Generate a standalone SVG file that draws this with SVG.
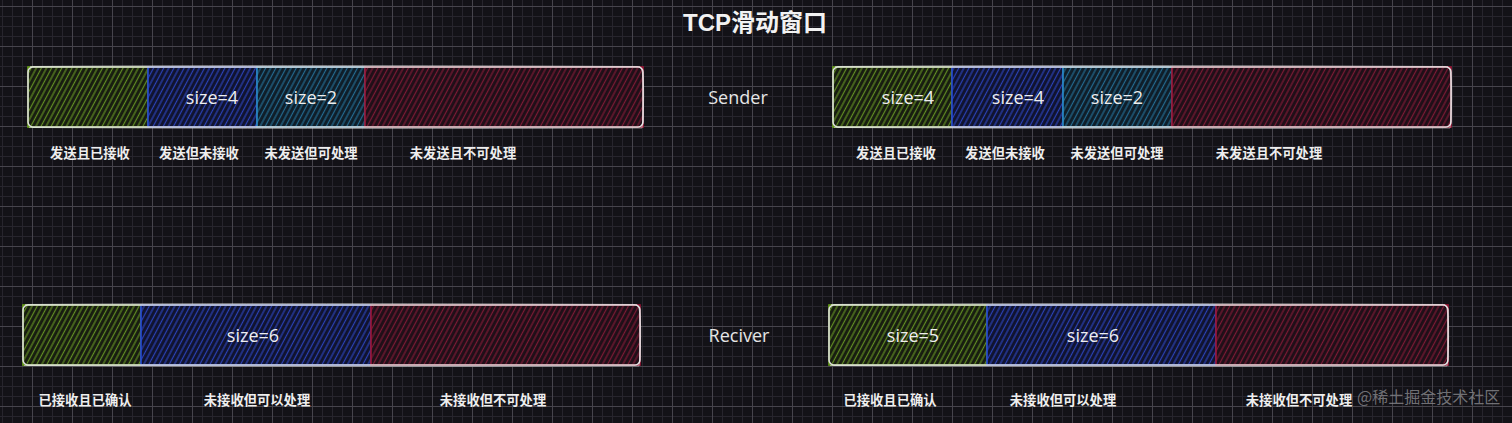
<svg xmlns="http://www.w3.org/2000/svg" width="1512" height="423" viewBox="0 0 1512 423">
<style>
.title{font-family:"Liberation Sans","Noto Sans CJK SC",sans-serif;font-weight:bold;font-size:24px;fill:#f2f2f2;text-anchor:middle}
.lbl{font-family:"Noto Sans CJK SC",sans-serif;font-weight:bold;font-size:13.3px;fill:#eeeeee;text-anchor:middle;dominant-baseline:central}
.hand{font-family:"Open Sans","Noto Sans",sans-serif;font-size:18px;fill:#eeeeee;text-anchor:middle;dominant-baseline:central}
.side{font-family:"Open Sans","Noto Sans",sans-serif;font-size:18px;fill:#e6e6e6;text-anchor:middle;dominant-baseline:central}
.wm{font-family:"Noto Sans CJK SC",sans-serif;font-size:16px;fill:#8a8a8e;fill-opacity:0.8}
.outer{fill:none;stroke:#dedede;stroke-width:1.6}
.outer2{fill:none;stroke:#ffffff;stroke-width:1;stroke-opacity:0.45}
.g{fill:url(#hG);stroke:#6aa31a;stroke-width:1.6}
.b{fill:url(#hB);stroke:#2448d8;stroke-width:1.6}
.c{fill:url(#hC);stroke:#2a8cc4;stroke-width:1.6}
.r{fill:url(#hR);stroke:#9e1535;stroke-width:1.6}
</style>
<defs>
<pattern id="minor" patternUnits="userSpaceOnUse" x="2" y="6" width="10" height="10"><path d="M0.5 0V10M0 0.5H10" stroke="#27252d" stroke-width="1" fill="none"/></pattern>
<pattern id="major" patternUnits="userSpaceOnUse" x="32" y="6" width="40" height="40"><path d="M0.5 0V40M0 0.5H40" stroke="#46444c" stroke-width="1" fill="none"/></pattern>
<pattern id="hG" patternUnits="userSpaceOnUse" width="9" height="20" patternTransform="rotate(28)"><rect width="9" height="20" fill="#171c10"/><path d="M1 -1V21M5.5 -1V21" stroke="#628f24" stroke-width="1.2"/></pattern>
<pattern id="hB" patternUnits="userSpaceOnUse" width="9" height="20" patternTransform="rotate(28)"><rect width="9" height="20" fill="#10132e"/><path d="M1 -1V21M5.5 -1V21" stroke="#2b42b8" stroke-width="1.2"/></pattern>
<pattern id="hC" patternUnits="userSpaceOnUse" width="9" height="20" patternTransform="rotate(28)"><rect width="9" height="20" fill="#0f1d28"/><path d="M1 -1V21M5.5 -1V21" stroke="#246c92" stroke-width="1.2"/></pattern>
<pattern id="hR" patternUnits="userSpaceOnUse" width="9" height="20" patternTransform="rotate(28)"><rect width="9" height="20" fill="#1f0f18"/><path d="M1 -1V21M5.5 -1V21" stroke="#7e1a36" stroke-width="1.2"/></pattern>
</defs>
<rect width="1512" height="423" fill="#131217"/>
<rect width="1512" height="423" fill="url(#minor)"/>
<rect width="1512" height="423" fill="url(#major)"/>

<g id="title"><text class="title" x="755" y="31">TCP滑动窗口</text></g>

<g id="sender-left">
<rect class="g" x="28" y="67" width="120" height="60"/>
<rect class="b" x="148" y="67" width="109" height="60"/>
<rect class="c" x="257" y="67" width="108" height="60"/>
<rect class="r" x="365" y="67" width="278" height="60"/>
<rect class="outer" x="28" y="67" width="615" height="60" rx="5"/>
<path class="outer2" d="M30 66.5C200 65 450 65.5 640 66.5C645 70 644 110 642 128C450 129 200 128.5 29 127.5"/>
<text class="hand" x="212" y="97">size=4</text>
<text class="hand" x="311" y="97">size=2</text>
<text class="lbl" x="90" y="152">发送且已接收</text>
<text class="lbl" x="199" y="152">发送但未接收</text>
<text class="lbl" x="311" y="152">未发送但可处理</text>
<text class="lbl" x="463" y="152">未发送且不可处理</text>
</g>

<g id="sender-label"><text class="side" x="738" y="97">Sender</text></g>

<g id="sender-right">
<rect class="g" x="833" y="67" width="119" height="60"/>
<rect class="b" x="952" y="67" width="111" height="60"/>
<rect class="c" x="1063" y="67" width="109" height="60"/>
<rect class="r" x="1172" y="67" width="279" height="60"/>
<rect class="outer" x="833" y="67" width="618" height="60" rx="5"/>
<path class="outer2" d="M835 66.5C1000 65 1250 65.5 1448 66.5C1453 70 1452 110 1450 128C1250 129 1000 128.5 834 127.5"/>
<text class="hand" x="908" y="97">size=4</text>
<text class="hand" x="1018" y="97">size=4</text>
<text class="hand" x="1117" y="97">size=2</text>
<text class="lbl" x="896" y="152">发送且已接收</text>
<text class="lbl" x="1005" y="152">发送但未接收</text>
<text class="lbl" x="1117" y="152">未发送但可处理</text>
<text class="lbl" x="1269" y="152">未发送且不可处理</text>
</g>

<g id="receiver-left">
<rect class="g" x="23" y="305" width="118" height="60"/>
<rect class="b" x="141" y="305" width="230" height="60"/>
<rect class="r" x="371" y="305" width="269" height="60"/>
<rect class="outer" x="23" y="305" width="617" height="60" rx="5"/>
<path class="outer2" d="M25 304.5C200 303 450 303.5 637 304.5C642 308 641 348 639 366C450 367 200 366.5 24 365.5"/>
<text class="hand" x="253" y="335">size=6</text>
<text class="lbl" x="85" y="399">已接收且已确认</text>
<text class="lbl" x="257" y="399">未接收但可以处理</text>
<text class="lbl" x="493" y="399">未接收但不可处理</text>
</g>

<g id="receiver-label"><text class="side" x="739" y="335">Reciver</text></g>

<g id="receiver-right">
<rect class="g" x="829" y="305" width="158" height="60"/>
<rect class="b" x="987" y="305" width="229" height="60"/>
<rect class="r" x="1216" y="305" width="232" height="60"/>
<rect class="outer" x="829" y="305" width="619" height="60" rx="5"/>
<path class="outer2" d="M831 304.5C1000 303 1250 303.5 1445 304.5C1450 308 1449 348 1447 366C1250 367 1000 366.5 830 365.5"/>
<text class="hand" x="913" y="335">size=5</text>
<text class="hand" x="1093" y="335">size=6</text>
<text class="lbl" x="890" y="399">已接收且已确认</text>
<text class="lbl" x="1063" y="399">未接收但可以处理</text>
<text class="lbl" x="1299" y="399">未接收但不可处理</text>
</g>

<g id="watermark"><text class="wm" x="1357" y="403">@稀土掘金技术社区</text></g>
</svg>
